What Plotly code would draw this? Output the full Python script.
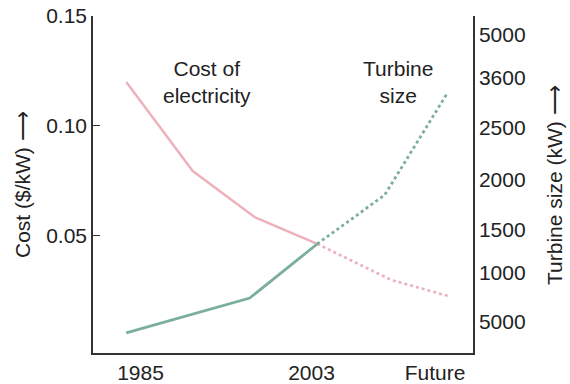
import plotly.graph_objects as go

# ---- data ----
x_ticks = [1985, 2003, 2016]
x_tick_labels = ["1985", "2003", "Future"]

cost_years_hist = [1983.5, 1990.5, 1997.0, 2003.6]
cost_hist = [0.120, 0.0795, 0.0586, 0.0464]
cost_years_future = [2003.6, 2011.4, 2017.4]
cost_future = [0.0464, 0.030, 0.0227]

turb_years_hist = [1983.5, 1996.5, 2003.6]
turb_hist = [387, 747, 1304]          # in right-axis units
turb_years_future = [2003.6, 2010.7, 2017.3]
turb_future = [1304, 1809, 2860]

left_ticks = [0.05, 0.10, 0.15]
left_tick_labels = ["0.05", "0.10", "0.15"]
right_tick_vals = [500, 1005, 1449, 1964, 2500, 3016, 3459]
right_tick_labels = ["5000", "1000", "1500", "2000", "2500", "3600", "5000"]

PINK = "#EDB1BC"
GREEN = "#7BAE9C"
FONT = "Liberation Sans, Arial, sans-serif"
FS = 21

L, R, T, B = 93, 97, 16, 31
W, H = 570, 384

fig = go.Figure()
fig.add_trace(go.Scatter(x=cost_years_hist, y=cost_hist, mode="lines",
                         line=dict(color=PINK, width=2.4), yaxis="y"))
fig.add_trace(go.Scatter(x=cost_years_future, y=cost_future, mode="lines",
                         line=dict(color=PINK, width=2.6, dash="dot"), yaxis="y"))
fig.add_trace(go.Scatter(x=turb_years_hist, y=turb_hist, mode="lines",
                         line=dict(color=GREEN, width=2.8), yaxis="y2"))
fig.add_trace(go.Scatter(x=turb_years_future, y=turb_future, mode="lines",
                         line=dict(color=GREEN, width=2.8, dash="dot"), yaxis="y2"))

fig.add_annotation(x=1992, y=0.120, xref="x", yref="y", text="Cost of<br>electricity",
                   showarrow=False, font=dict(size=FS, color="#222"), align="center")
fig.add_annotation(x=2012.1, y=0.120, xref="x", yref="y", text="Turbine<br>size",
                   showarrow=False, font=dict(size=FS, color="#222"), align="center")


def px_x(p):
    return (p - L) / (W - L - R)


def px_y(p):
    return (H - B - p) / (H - T - B)


# axis titles
fig.add_annotation(x=px_x(22), y=px_y(185), xref="paper", yref="paper",
                   xanchor="center", yanchor="middle",
                   text="Cost ($/kW) \u27f6", showarrow=False, textangle=-90,
                   font=dict(size=FS, color="#222"))
fig.add_annotation(x=px_x(554), y=px_y(185), xref="paper", yref="paper",
                   xanchor="center", yanchor="middle",
                   text="Turbine size (kW) \u27f6", showarrow=False, textangle=-90,
                   font=dict(size=FS, color="#222"))

fig.update_layout(
    width=W, height=H,
    margin=dict(l=L, r=R, t=T, b=B, autoexpand=False),
    paper_bgcolor="white", plot_bgcolor="white",
    showlegend=False,
    font=dict(family=FONT, size=FS, color="#222"),
    xaxis=dict(range=[1980, 2020], tickvals=x_ticks, ticktext=x_tick_labels,
               showgrid=False, zeroline=False, showline=True, linecolor="#333",
               linewidth=1.5, ticks="", ticklen=0, automargin=False,
               tickfont=dict(size=FS)),
    yaxis=dict(range=[-0.0032, 0.15], tickvals=left_ticks, ticktext=left_tick_labels,
               showgrid=False, zeroline=False, showline=True, linecolor="#333",
               linewidth=1.5, ticks="inside", ticklen=7, tickcolor="#333",
               automargin=False, tickfont=dict(size=FS)),
    yaxis2=dict(range=[180, 3655], overlaying="y", side="right",
                tickvals=right_tick_vals, ticktext=right_tick_labels,
                showgrid=False, zeroline=False, showline=True, linecolor="#333",
                linewidth=1.5, ticks="", ticklen=0, automargin=False,
                tickfont=dict(size=FS)),
)

fig.write_html("out.html", config={"displayModeBar": False},
               post_script="document.body.style.margin='0';document.body.style.padding='0';")
